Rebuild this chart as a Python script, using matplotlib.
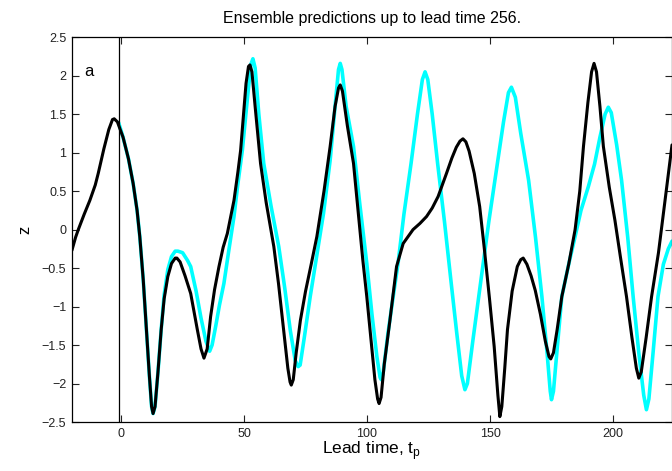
import matplotlib
matplotlib.use("Agg")
import matplotlib.pyplot as plt

plt.rcParams['font.family'] = ['Liberation Sans', 'DejaVu Sans']

# Reference trajectory (black)
black_t = [-20, -18.5, -17.4, -15, -12.7, -10.5, -9.3, -7, -5, -3.5, -2.8, -1.5,
           0.8, 3, 4.9, 6.5, 7.6, 9, 10.3, 11.5, 12.4, 13, 13.8, 15, 16.3, 17.5,
           19, 20.5, 22, 22.7, 24, 26, 28.3, 31, 32.5, 33.7, 35, 36.4, 38, 39.8,
           41.5, 43.2, 45.9, 47.5, 48.6, 49.6, 50.8, 51.8, 52.4, 53.2, 54.5, 56.7,
           59, 62.1, 64, 66.1, 67.8, 68.7, 69.2, 70, 71.2, 72.9, 75, 77.3, 79.6,
           82.5, 85, 87, 88.4, 89.1, 90, 92, 94.5, 96.5, 98.3, 99.9, 101.5, 103.2,
           104.3, 104.9, 105.7, 107, 109.3, 112, 114.7, 118.7, 121.5, 124.2, 126.5,
           128.9, 130.5, 132.3, 134.5, 136.3, 137.8, 139, 140.2, 141.5, 143.6,
           145.8, 147.6, 149.8, 151.7, 153.2, 154, 154.8, 156, 157.1, 159, 161.1,
           162.5, 163.5, 165, 166.7, 168.4, 170.5, 172.5, 174, 174.7, 175.8, 177.3,
           179.2, 182, 184.6, 186.5, 188, 189.8, 191.3, 192.3, 193.3, 194.7, 196.1,
           198.5, 200.8, 203, 205.5, 207.7, 209.5, 210.5, 211.5, 213.5, 215.7,
           218.5, 221, 224]
black_z = [-0.27, -0.1, 0.0, 0.2, 0.38, 0.58, 0.73, 1.05, 1.3, 1.43, 1.44, 1.40,
           1.2, 0.92, 0.6, 0.25, -0.09, -0.65, -1.3, -1.9, -2.3, -2.39, -2.3, -1.85,
           -1.3, -0.9, -0.61, -0.44, -0.37, -0.37, -0.42, -0.6, -0.83, -1.3, -1.55,
           -1.67, -1.55, -1.13, -0.78, -0.48, -0.23, -0.05, 0.38, 0.75, 1.03, 1.42,
           1.9, 2.12, 2.14, 2.05, 1.6, 0.86, 0.35, -0.22, -0.7, -1.31, -1.8, -1.98,
           -2.02, -1.95, -1.6, -1.18, -0.8, -0.45, -0.09, 0.5, 1.08, 1.6, 1.84, 1.88,
           1.8, 1.35, 0.86, 0.2, -0.4, -0.87, -1.4, -1.95, -2.2, -2.26, -2.18, -1.75,
           -1.18, -0.48, -0.18, 0.0, 0.08, 0.17, 0.28, 0.43, 0.57, 0.73, 0.93, 1.07,
           1.15, 1.18, 1.14, 1.02, 0.73, 0.3, -0.22, -0.9, -1.52, -2.15, -2.43,
           -2.3, -1.8, -1.3, -0.8, -0.48, -0.39, -0.37, -0.45, -0.6, -0.79, -1.1,
           -1.45, -1.65, -1.68, -1.6, -1.3, -0.87, -0.45, 0.0, 0.5, 1.08, 1.65,
           2.05, 2.16, 2.05, 1.6, 1.08, 0.55, 0.12, -0.35, -0.87, -1.4, -1.8, -1.93,
           -1.85, -1.4, -0.87, -0.3, 0.34, 1.1]

# Ensemble prediction (cyan)
cyan_t = [-1, 0.8, 3, 4.9, 6.5, 7.6, 9, 10.3, 11.5, 12.4, 13, 13.8, 15, 16.3, 17.5,
          19, 20.5, 22, 23.1, 25, 27, 28.3, 30.5, 32.5, 34.5, 36, 37, 38.5, 40,
          41.8, 43.8, 45.9, 47.5, 49.3, 51.5, 52.8, 53.6, 54.5, 56, 58, 61, 64.1,
          66.5, 68.8, 70.8, 72, 72.8, 74.5, 76.9, 79.5, 82.3, 85, 87, 88.4, 89.1,
          89.8, 91.5, 94.5, 97, 99.9, 102, 104, 105.3, 105.8, 106.6, 108.5, 110.5,
          112.6, 115, 117.9, 120.5, 122.5, 123.6, 124.7, 126.5, 128.7, 131.5,
          134.1, 136.5, 138.5, 139.8, 140.8, 143, 146.3, 149.5, 153, 155.5, 157.5,
          158.7, 160.3, 162.5, 165.7, 168.5, 171.1, 173.2, 174.5, 175, 175.8,
          177.3, 179.2, 182, 184.6, 187, 190, 192.5, 194.7, 196.8, 198.1, 199.3,
          201.5, 203.5, 206, 208.2, 210.5, 212.5, 213.6, 214.6, 216.3, 218.3,
          220.5, 222.5, 224]
cyan_z = [1.39, 1.2, 0.92, 0.6, 0.25, -0.09, -0.65, -1.3, -1.9, -2.3, -2.39, -2.3,
          -1.85, -1.3, -0.85, -0.52, -0.35, -0.28, -0.28, -0.3, -0.4, -0.48, -0.8,
          -1.15, -1.45, -1.58, -1.5, -1.25, -0.98, -0.7, -0.27, 0.17, 0.6, 1.03,
          1.75, 2.15, 2.22, 2.1, 1.5, 0.86, 0.3, -0.22, -0.75, -1.31, -1.7, -1.78,
          -1.76, -1.4, -0.87, -0.35, 0.21, 0.9, 1.6, 2.08, 2.16, 2.08, 1.6, 1.08,
          0.35, -0.44, -1.1, -1.65, -1.92, -1.95, -1.85, -1.35, -0.9, -0.44, 0.2,
          0.86, 1.5, 1.95, 2.05, 1.95, 1.5, 0.86, 0.1, -0.66, -1.35, -1.9, -2.08,
          -2.0, -1.45, -0.66, 0.1, 0.86, 1.4, 1.78, 1.85, 1.72, 1.25, 0.64, -0.1,
          -0.87, -1.6, -2.1, -2.21, -2.1, -1.55, -0.87, -0.45, -0.09, 0.25, 0.56,
          0.85, 1.2, 1.5, 1.59, 1.52, 1.1, 0.64, -0.1, -0.87, -1.6, -2.15, -2.34,
          -2.2, -1.6, -0.87, -0.45, -0.25, -0.15]

start_time = -0.7
x_ticks = [0, 50, 100, 150, 200]
y_ticks = [-2.5, -2, -1.5, -1, -0.5, 0, 0.5, 1, 1.5, 2, 2.5]

fig = plt.figure(figsize=(6.72, 4.71), dpi=100)
ax = fig.add_axes([0.107, 0.104, 0.893, 0.817])

ax.plot(cyan_t, cyan_z, color='#00ffff', lw=2.6, solid_capstyle='round')
ax.plot(black_t, black_z, color='black', lw=2.2, solid_capstyle='round')
ax.axvline(start_time, color='black', lw=0.9)

ax.set_xlim(-20, 224)
ax.set_ylim(-2.5, 2.5)
ax.set_xticks(x_ticks)
ax.set_yticks(y_ticks)
ax.set_yticklabels(['\u22122.5', '\u22122', '\u22121.5', '\u22121', '\u22120.5',
                    '0', '0.5', '1', '1.5', '2', '2.5'])
ax.tick_params(direction='in', top=True, right=True, length=5, width=0.8,
               labelsize=9, colors='#222222', pad=4)
for s in ax.spines.values():
    s.set_linewidth(0.9)

ax.text(-13, 2.05, 'a', fontsize=12, ha='center', va='center')
ax.set_title('Ensemble predictions up to lead time 256.', fontsize=11.5, pad=10)
ax.set_xlabel('Lead time, t$_\\mathregular{p}$', fontsize=12.5, labelpad=0)
ax.set_ylabel('z', fontsize=12, labelpad=7)

fig.savefig('out.png', dpi=100)
